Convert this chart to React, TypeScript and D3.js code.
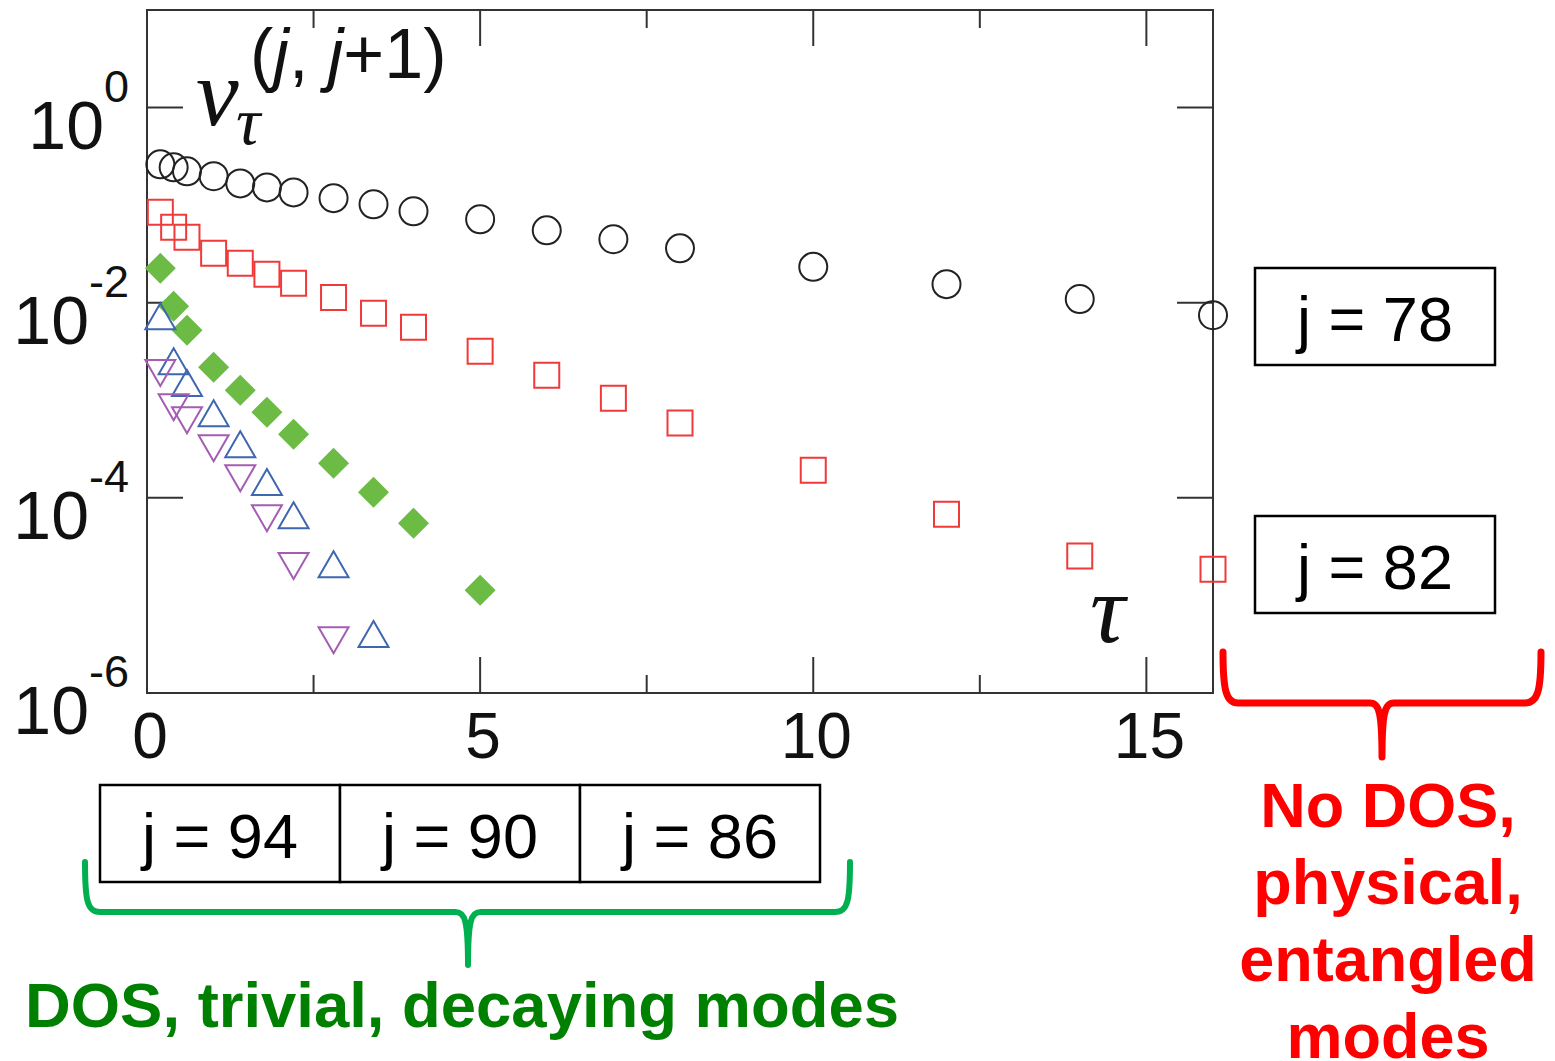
import * as d3 from 'd3';

// tau sampling points (shared by all series, shorter series use a prefix)
const taus = [0.2, 0.4, 0.6, 1, 1.4, 1.8, 2.2, 2.8, 3.4, 4, 5, 6, 7, 8, 10, 12, 14, 16];

// nu_tau^(j,j+1)
const j78 = [0.262, 0.244, 0.222, 0.198, 0.167, 0.152, 0.135, 0.118, 0.102, 0.0865, 0.0716, 0.0552, 0.0447, 0.0361, 0.0233, 0.0155, 0.0109, 0.00745];
const j82 = [0.0845, 0.0594, 0.0469, 0.0321, 0.0254, 0.0196, 0.0158, 0.0113, 0.00782, 0.00561, 0.00318, 0.00181, 0.00105, 0.000586, 0.000192, 0.0000681, 0.0000253, 0.0000186];
const j86 = [0.0225, 0.0092, 0.00522, 0.00218, 0.00127, 0.000755, 0.000449, 0.000226, 0.000114, 0.000055, 0.0000113];
const j90 = [0.00728, 0.00251, 0.0015, 0.000738, 0.000355, 0.000145, 0.0000665, 0.0000209, 0.00000402];
const j94 = [0.0019, 0.000849, 0.000625, 0.000323, 0.000159, 0.0000619, 0.00002, 0.00000348];

const xMajor = [0, 5, 10, 15];
const xMinor = [2.5, 7.5, 12.5];
const yTicks = [0, -2, -4, -6];
const bottomBoxes = ['j = 94', 'j = 90', 'j = 86'];
const redLines = ['No DOS,', 'physical,', 'entangled', 'modes'];

const W = 1555, H = 1061;
const x = d3.scaleLinear().domain([0, 16]).range([147, 1213]);
const y = d3.scaleLog().domain([1e-6, 10]).range([693, 10]);

const pts = (vals: number[]) => vals.map((v, i) => [x(taus[i]), y(v)] as [number, number]);

const sq = (cx: number, cy: number, s = 12.5) =>
  `M${cx - s},${cy - s}h${2 * s}v${2 * s}h${-2 * s}Z`;
const diamond = (cx: number, cy: number, s = 15.5) =>
  `M${cx},${cy - s}L${cx + s},${cy}L${cx},${cy + s}L${cx - s},${cy}Z`;
const triUp = (cx: number, cy: number) =>
  `M${cx},${cy - 13}L${cx + 15},${cy + 13}L${cx - 15},${cy + 13}Z`;
const triDown = (cx: number, cy: number) =>
  `M${cx},${cy + 13}L${cx + 15},${cy - 13}L${cx - 15},${cy - 13}Z`;

const sans = "'Liberation Sans', Arial, sans-serif";
const serif = "'Liberation Serif', 'Times New Roman', serif";

export default function App() {
  const [x0, x1] = x.range();
  const [yb, yt] = y.range();
  return (
    <svg width={W} height={H} style={{ position: 'absolute', left: 0, top: 0, background: '#fff' }}>
      {/* frame */}
      <rect x={x0} y={yt} width={x1 - x0} height={yb - yt} fill="none" stroke="#333" strokeWidth={2} />
      {xMajor.filter(t => t > 0).map(t => (
        <g key={'xm' + t} stroke="#333" strokeWidth={2}>
          <line x1={x(t)} x2={x(t)} y1={yb} y2={yb - 36} />
          <line x1={x(t)} x2={x(t)} y1={yt} y2={yt + 36} />
        </g>
      ))}
      {xMinor.map(t => (
        <g key={'xn' + t} stroke="#333" strokeWidth={2}>
          <line x1={x(t)} x2={x(t)} y1={yb} y2={yb - 18} />
          <line x1={x(t)} x2={x(t)} y1={yt} y2={yt + 18} />
        </g>
      ))}
      {yTicks.filter(e => e > -6).map(e => (
        <g key={'y' + e} stroke="#333" strokeWidth={2}>
          <line x1={x0} x2={x0 + 36} y1={y(10 ** e)} y2={y(10 ** e)} />
          <line x1={x1} x2={x1 - 36} y1={y(10 ** e)} y2={y(10 ** e)} />
        </g>
      ))}

      {/* tick labels */}
      {xMajor.map(t => (
        <text key={'xl' + t} x={x(t) + 3} y={758} textAnchor="middle" fontFamily={sans} fontSize={64} fill="#111">{t}</text>
      ))}
      {yTicks.map(e => (
        <text key={'yl' + e} x={129} y={y(10 ** e) + 41} textAnchor="end" fontFamily={sans} fill="#111">
          <tspan fontSize={68}>10</tspan>
          <tspan fontSize={45} dy={-47}>{e === 0 ? '0' : '-' + (-e)}</tspan>
        </text>
      ))}

      {/* axis titles */}
      <text x={196} y={125} fontFamily={serif} fontStyle="italic" fontSize={96} fill="#111">ν</text>
      <text x={236} y={144} fontFamily={serif} fontStyle="italic" fontSize={68} fill="#111">τ</text>
      <text x={250} y={78} fontFamily={sans} fontSize={70} fill="#111">
        (<tspan fontStyle="italic">j</tspan>, <tspan fontStyle="italic">j</tspan>+1)
      </text>
      <text x={1090} y={642} fontFamily={serif} fontStyle="italic" fontSize={98} fill="#111">τ</text>

      {/* data */}
      <g fill="none" stroke="#222" strokeWidth={2}>
        {pts(j78).map(([cx, cy], i) => <circle key={i} cx={cx} cy={cy} r={14} />)}
      </g>
      <g fill="none" stroke="#f03a3a" strokeWidth={2}>
        {pts(j82).map(([cx, cy], i) => <path key={i} d={sq(cx, cy)} />)}
      </g>
      <g fill="#6cbb45">
        {pts(j86).map(([cx, cy], i) => <path key={i} d={diamond(cx, cy)} />)}
      </g>
      <g fill="none" stroke="#3f67b0" strokeWidth={2}>
        {pts(j90).map(([cx, cy], i) => <path key={i} d={triUp(cx, cy)} />)}
      </g>
      <g fill="none" stroke="#a45db2" strokeWidth={2}>
        {pts(j94).map(([cx, cy], i) => <path key={i} d={triDown(cx, cy)} />)}
      </g>

      {/* right boxes */}
      {[['j = 78', 268], ['j = 82', 516]].map(([t, top]) => (
        <g key={t as string}>
          <rect x={1255} y={top as number} width={240} height={97} fill="#fff" stroke="#000" strokeWidth={2.5} />
          <text x={1375} y={(top as number) + 73} textAnchor="middle" fontFamily={sans} fontSize={63} fill="#000">{t}</text>
        </g>
      ))}

      {/* bottom boxes */}
      {bottomBoxes.map((t, i) => (
        <g key={t}>
          <rect x={100 + i * 240} y={785} width={240} height={97} fill="#fff" stroke="#000" strokeWidth={2.5} />
          <text x={220 + i * 240} y={858} textAnchor="middle" fontFamily={sans} fontSize={63} fill="#000">{t}</text>
        </g>
      ))}

      {/* green brace */}
      <path d="M85,862 C85,900 87,912 100,912 L455,912 C465,912 468,920 468,965 C468,920 471,912 481,912 L835,912 C848,912 850,900 850,862"
        fill="none" stroke="#00b050" strokeWidth={6} strokeLinecap="round" strokeLinejoin="round" />
      <text x={462} y={1027} textAnchor="middle" fontFamily={sans} fontWeight="bold" fontSize={63} fill="#008000"
        textLength={874} lengthAdjust="spacingAndGlyphs">DOS, trivial, decaying modes</text>

      {/* red brace */}
      <path d="M1223,652 C1223,690 1226,703 1238,703 L1370,703 C1379,703 1382,712 1382,757 C1382,712 1385,703 1394,703 L1525,703 C1538,703 1541,690 1541,652"
        fill="none" stroke="#ff0000" strokeWidth={7} strokeLinecap="round" strokeLinejoin="round" />
      {redLines.map((t, i) => (
        <text key={t} x={1388} y={827 + i * 77} textAnchor="middle" fontFamily={sans} fontWeight="bold" fontSize={63} fill="#ff0000">{t}</text>
      ))}
    </svg>
  );
}
